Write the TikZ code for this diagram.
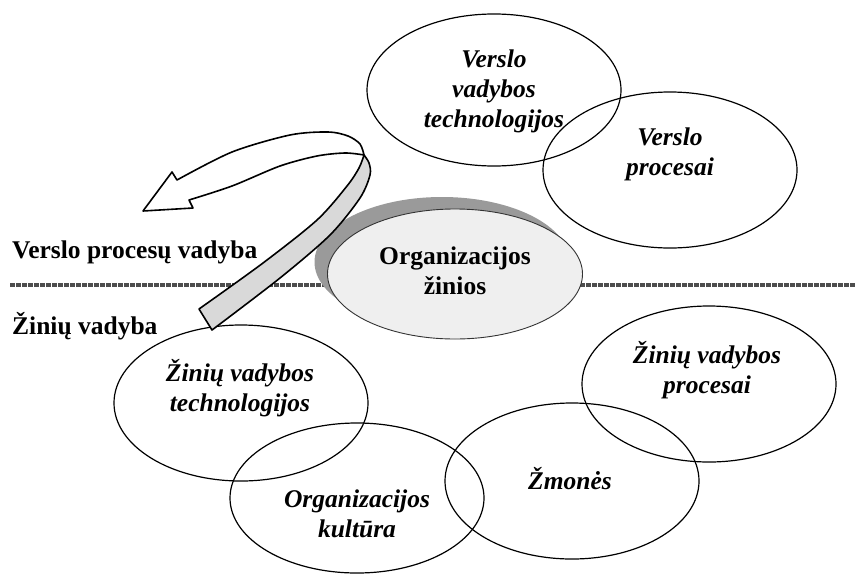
\documentclass[tikz,border=0pt]{standalone}
\usepackage{fontspec}
\setmainfont{Liberation Serif}
\usetikzlibrary{shapes.geometric}
\definecolor{coreFill}{HTML}{EFEFEF}
\definecolor{coreShadow}{HTML}{9A9A9A}
\definecolor{coreLine}{HTML}{333333}
\definecolor{sepLine}{HTML}{4D4D4D}
\definecolor{bandFill}{HTML}{D9D9D9}
\begin{document}
\begin{tikzpicture}[x=1pt,y=-1pt,line cap=round,line join=round,
	bubble/.style={ellipse,draw,line width=1.2pt,minimum width=254pt,minimum height=156pt,inner sep=0pt},
	txt/.style={align=center,font=\fontsize{25.5}{30}\selectfont\bfseries\itshape},
	side/.style={anchor=west,inner sep=0pt,font=\fontsize{25.5}{30}\selectfont\bfseries}]
	\useasboundingbox (0,0) rectangle (858,573);
	% separator between the two areas
	\coordinate (sepL) at (10,285);
	\coordinate (sepR) at (856,285);
	\draw[sepLine,line width=3.5pt,line cap=butt,dash pattern=on 4.5pt off 1.5pt] (sepL)--(sepR);
	\node[side] (bpm) at (12,252) {Verslo procesų vadyba};
	\node[side] (km) at (12,326) {Žinių vadyba};
	% circles
	\node[bubble,minimum height=152pt] (vvt) at (494,90) {};
	\node[bubble] (vp) at (670,170) {};
	\node[bubble] (zvt) at (241,403) {};
	\node[bubble,minimum height=150pt] (ok) at (357,498) {};
	\node[bubble] (zm) at (572,481) {};
	\node[bubble] (zvp) at (709,384) {};
	\node[txt] (vvt-t) at (494,91) {Verslo\\vadybos\\technologijos};
	\node[txt] (vp-t) at (670,154) {Verslo\\procesai};
	\node[txt] (zvt-t) at (240,388) {Žinių vadybos\\technologijos};
	\node[txt] (ok-t) at (357,514) {Organizacijos\\kultūra};
	\node[txt] (zm-t) at (570,479) {Žmonės};
	\node[txt] (zvp-t) at (707,370) {Žinių vadybos\\procesai};
	% core
	\node[ellipse,fill=coreShadow,minimum width=255pt,minimum height=130pt,inner sep=0pt] (shd) at (442,262) {};
	\node[ellipse,draw=coreLine,fill=coreFill,line width=0.9pt,minimum width=255pt,minimum height=130pt,inner sep=0pt] (core) at (455,274) {};
	\node[txt,font=\fontsize{25.5}{30}\selectfont\bfseries] (core-t) at (455,271) {Organizacijos\\žinios};
	% ribbon arrow
	\draw[fill=white,line width=1.6pt] (364,155) -- plot[smooth] coordinates {(364,155) (360,144) (348,136) (328,132) (290,135) (232,152) (177,180)}
		-- (172,172) -- (143,211) -- (193,208) -- (189,200)
		-- plot[smooth] coordinates {(189,200) (232,186) (280,166) (317,156) (345,153) (364,155)} -- cycle;
	\draw[fill=bandFill,line width=1.6pt] (364,155) -- plot[smooth] coordinates {(364,155) (359,168) (347,186) (317,220) (263,263) (199,309)}
		-- (212,330)
		-- plot[smooth] coordinates {(212,330) (280,278) (330,235) (360,198) (370,175) (369,163) (364,155)} -- cycle;
\end{tikzpicture}
\end{document}
